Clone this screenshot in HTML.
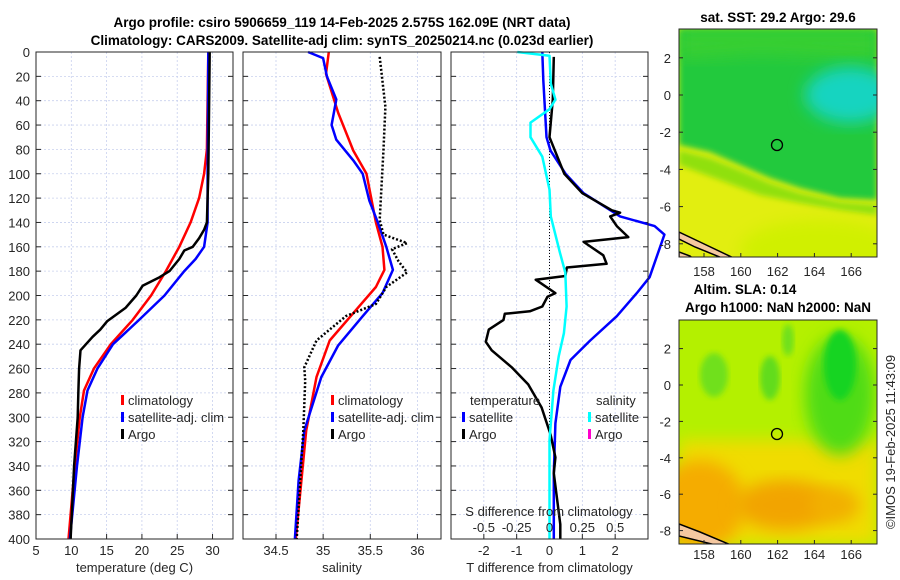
<!DOCTYPE html>
<html><head><meta charset="utf-8"><style>
body{margin:0;background:#fff;}
svg{display:block;font-family:"Liberation Sans",sans-serif;}
.t{font-size:13px;fill:#262626;}
.b{font-weight:bold;font-size:13.5px;fill:#000;}
</style></head><body>
<svg id="c" width="900" height="580" viewBox="0 0 900 580">
<defs>
<filter id="bl" x="-20%" y="-20%" width="140%" height="140%"><feGaussianBlur stdDeviation="8"/></filter>
<filter id="bl2"><feGaussianBlur stdDeviation="3"/></filter>
<clipPath id="m1"><rect x="679" y="29" width="198" height="228"/></clipPath>
<clipPath id="m2"><rect x="679" y="320" width="198" height="224"/></clipPath>
</defs>
<text class="b" x="342" y="27" text-anchor="middle">Argo profile: csiro 5906659_119 14-Feb-2025 2.575S 162.09E (NRT data)</text>
<text class="b" x="342" y="45" text-anchor="middle">Climatology: CARS2009. Satellite-adj clim: synTS_20250214.nc (0.023d earlier)</text>

<g>
<text class="b" x="778" y="22" text-anchor="middle">sat. SST: 29.2 Argo: 29.6</text>
<g clip-path="url(#m1)">
<rect x="679" y="29" width="198" height="228" fill="#e2ee10"/>
<ellipse cx="820" cy="250" rx="80" ry="30" fill="#d0f000" filter="url(#bl)"/>
<polygon points="679,29 877,29 877,200 840,198 800,188 770,178 740,165 710,152 679,145" fill="#22c93c" filter="url(#bl2)"/>
<polygon points="679,29 877,29 877,60 760,55 679,60" fill="#38cf30" filter="url(#bl)"/>
<ellipse cx="850" cy="95" rx="45" ry="28" fill="#12d4c0" filter="url(#bl)"/>
<polygon points="679,150 710,158 740,170 770,183 800,193 840,202 877,205 877,215 840,210 800,203 760,195 720,180 679,165" fill="#90e010" filter="url(#bl2)"/>
<path d="M679,232 L700,242 L742,262 L732,262 L695,247 L679,239Z" fill="#f5c8a0" stroke="#000" stroke-width="1.5"/>
<path d="M679,252 L690,256 L697,262 L679,262Z" fill="#f5c8a0" stroke="#000" stroke-width="1.5"/>
</g>
<rect x="679" y="29" width="198" height="228" fill="none" stroke="#262626"/>
<circle cx="777" cy="145" r="5.5" fill="none" stroke="#000" stroke-width="1.3"/>
</g>

<g>
<text class="b" x="745" y="294" text-anchor="middle">Altim. SLA: 0.14</text>
<text class="b" x="778" y="312" text-anchor="middle">Argo h1000: NaN h2000: NaN</text>
<g clip-path="url(#m2)">
<rect x="679" y="320" width="198" height="224" fill="#b4f000"/>
<rect x="679" y="440" width="198" height="104" fill="#f0dc00" filter="url(#bl)"/>
<ellipse cx="700" cy="505" rx="45" ry="45" fill="#f5ac00" filter="url(#bl)"/>
<ellipse cx="785" cy="505" rx="50" ry="25" fill="#f2a400" filter="url(#bl)"/>
<ellipse cx="835" cy="505" rx="25" ry="18" fill="#f2b000" filter="url(#bl)"/>
<ellipse cx="714" cy="375" rx="14" ry="22" fill="#70e01a" filter="url(#bl2)"/>
<ellipse cx="770" cy="378" rx="10" ry="22" fill="#62dc1c" filter="url(#bl2)"/>
<ellipse cx="788" cy="340" rx="6" ry="16" fill="#70e01a" filter="url(#bl2)"/>
<ellipse cx="840" cy="395" rx="35" ry="60" fill="#50dc18" filter="url(#bl)"/>
<ellipse cx="840" cy="365" rx="16" ry="35" fill="#18d424" filter="url(#bl2)"/>
<path d="M679,524 L700,532 L738,548 L728,548 L679,536Z" fill="#f5c8a0" stroke="#000" stroke-width="1.5"/>
</g>
<rect x="679" y="320" width="198" height="224" fill="none" stroke="#262626"/>
<circle cx="777" cy="434" r="5.5" fill="none" stroke="#000" stroke-width="1.3"/>
</g>
<text class="t" transform="translate(895,442) rotate(-90)" text-anchor="middle">©IMOS 19-Feb-2025 11:43:09</text>
</svg>
<script>
// ---- data (depth in m, values) ----
const tickDepths=[0,20,40,60,80,100,120,140,160,180,200,220,240,260,280,300,320,340,360,380,400];
const tempTicks=[5,10,15,20,25,30];
const salTicks=[34.5,35,35.5,36];
const tdiffTicks=[-2,-1,0,1,2];
const sdiffTicks=[-0.5,-0.25,0,0.25,0.5];
const sdiffTickLabels=["-0.5","-0.25","0","0.25","0.5"];
const latTicks=[2,0,-2,-4,-6,-8];
const lonTicks=[158,160,162,164,166];

const climTDepth=[0,80,100,120,140,160,180,200,220,240,260,278,300,340,400];
const climT=[29.4,29.2,28.8,28.1,26.9,25.3,23.4,21.3,18.7,15.6,13.2,11.8,11.2,10.5,9.6];
const satTDepth=[0,100,140,160,170,180,200,220,240,260,278,300,340,400];
const satT=[29.4,29.3,29.3,28.8,27.6,26.0,23.2,19.6,15.9,13.7,12.3,11.6,10.8,9.8];
const argoTDepth=[0,100,140,146,153,160,163,170,180,185,192,200,210,221,228,234,245,260,278,300,340,400];
const argoT=[29.6,29.4,29.2,28.8,28.1,27.2,26.0,25.3,23.9,22.5,20.1,19.2,17.7,15.1,14.1,13.0,11.3,11.1,11.0,10.9,10.4,9.9];

const climSDepth=[0,18,50,81,100,140,160,179,193,210,237,267,311,400];
const climS=[35.06,35.03,35.16,35.32,35.46,35.56,35.63,35.65,35.56,35.37,35.07,34.93,34.82,34.71];
const satSDepth=[0,5,20,39,60,72,89,100,122,140,160,179,198,217,241,267,311,352,400];
const satS=[34.84,35.0,35.04,35.14,35.09,35.14,35.32,35.42,35.49,35.58,35.67,35.74,35.63,35.42,35.16,34.98,34.80,34.74,34.70];
const argoSDepth=[4,45,80,138,150,157,162,172,181,193,207,217,237,259,270,311,400];
const argoS=[35.6,35.66,35.64,35.6,35.64,35.89,35.73,35.8,35.89,35.67,35.56,35.24,34.93,34.8,34.81,34.79,34.72];

const dTsatDepth=[0,23,70,81,100,116,135,143,150,185,198,217,237,253,275,305,346,400];
const dTsat=[-0.22,-0.19,-0.09,0.03,0.49,1.04,2.15,3.2,3.5,3.05,2.66,2.05,1.24,0.64,0.33,0.18,0.13,0.13];
const dTargoDepth=[4,39,70,100,116,130,132,135,143,152,156,167,174,177,184,187,198,201,209,213,215,220,228,238,245,259,273,292,314,333,346,388,400];
const dTargo=[0.13,0.1,0.0,0.45,1.0,1.9,2.15,1.85,2.05,2.4,1.04,1.64,1.74,0.53,0.48,-0.42,0.18,-0.06,-0.22,-0.6,-1.36,-1.4,-1.85,-1.94,-1.76,-1.15,-0.65,-0.24,0.03,0.18,0.13,0.33,0.33];
const dSsatDepth=[0,3,26,39,47,58,70,86,113,135,165,181,209,231,250,278,319,400];
const dSsat=[-0.245,0,0.01,0.045,0,-0.145,-0.145,-0.055,0,0.01,0.08,0.12,0.13,0.11,0.07,0.03,0,0];

// ---- drawing ----
const NS='http://www.w3.org/2000/svg';
const svg=document.getElementById('c');
const Y0=52,Y1=539;
function y(d){return Y0+(d/400)*(Y1-Y0);}
function mk(tag,attrs,parent){const e=document.createElementNS(NS,tag);for(const k in attrs)e.setAttribute(k,attrs[k]);(parent||svg).appendChild(e);return e;}

function panel(name,x0,x1,vmin,vmax,ticks,labels,xlabel){
  const g=mk('g',{});
  
  
  const sx=v=>x0+(v-vmin)/(vmax-vmin)*(x1-x0);
  ticks.forEach((t,i)=>{
    const gl=mk('line',{x1:sx(t),x2:sx(t),y1:Y0,y2:Y1,stroke:'#c8d0ee','stroke-width':0.8,'stroke-dasharray':'2,2'},g);
    
    
    const tl=mk('text',{x:sx(t),y:Y1+16,'text-anchor':'middle',class:'t'},g);
    tl.textContent=labels[i];
    
    
    mk('line',{x1:sx(t),x2:sx(t),y1:Y1,y2:Y1-5,stroke:'#262626'},g);
  });
  tickDepths.forEach(d=>{
    if(d>0&&d<400){const gl=mk('line',{x1:x0,x2:x1,y1:y(d),y2:y(d),stroke:'#c8d0ee','stroke-width':0.8,'stroke-dasharray':'2,2'},g);
    
    }
    mk('line',{x1:x0,x2:x0+5,y1:y(d),y2:y(d),stroke:'#262626'},g);
    mk('line',{x1:x1,x2:x1-5,y1:y(d),y2:y(d),stroke:'#262626'},g);
  });
  const xt=mk('text',{x:(x0+x1)/2,y:572,'text-anchor':'middle',class:'t'},g);
  xt.textContent=xlabel;
  
  
  return {g,sx};
}
function line(p,vals,deps,color,w,dash,nm){
  const pts=vals.map((v,i)=>p.sx(v).toFixed(1)+','+y(deps[i]).toFixed(1)).join(' ');
  const e=mk('polyline',{points:pts,fill:'none',stroke:color,'stroke-width':w,'stroke-linejoin':'round'},p.g);
  if(dash)e.setAttribute('stroke-dasharray',dash);
  
  
}
function frame(x0,x1,g){const r=mk('rect',{x:x0,y:Y0,width:x1-x0,height:Y1-Y0,fill:'none',stroke:'#262626'},g);
  }
function legend(g,x,yy,items){
  items.forEach((it,i)=>{
    const yy2=yy+i*17;
    mk('rect',{x:x,y:yy2-9,width:3,height:10,fill:it[1]},g);
    const t=mk('text',{x:x+7,y:yy2+1,class:'t'},g);
    t.textContent=it[0];
    
    
  });
}

// panel 1 temperature
const p1=panel('temperature-panel',36,233,5,32.9,tempTicks,tempTicks.map(String),'temperature (deg C)');
tickDepths.forEach(d=>{const t=mk('text',{x:30,y:y(d)+5,'text-anchor':'end',class:'t'},p1.g);t.textContent=d;
  });
line(p1,climT,climTDepth,'#ff0000',2.5,null,'climatology-temp-line');
line(p1,satT,satTDepth,'#0000ff',2.5,null,'satellite-temp-line');
line(p1,argoT,argoTDepth,'#000',2.5,null,'argo-temp-line');
frame(36,233,p1.g);
legend(p1.g,121,404,[['climatology','#ff0000'],['satellite-adj. clim','#0000ff'],['Argo','#000']]);

// panel 2 salinity
const p2=panel('salinity-panel',243,441,34.15,36.25,salTicks,salTicks.map(String),'salinity');
line(p2,climS,climSDepth,'#ff0000',2.5,null,'climatology-salinity-line');
line(p2,satS,satSDepth,'#0000ff',2.5,null,'satellite-salinity-line');
line(p2,argoS,argoSDepth,'#000',2.5,'2,2','argo-salinity-line');
frame(243,441,p2.g);
legend(p2.g,331,404,[['climatology','#ff0000'],['satellite-adj. clim','#0000ff'],['Argo','#000']]);

// panel 3 differences
const p3=panel('difference-panel',451,648,-3,3,tdiffTicks,tdiffTicks.map(String),'T difference from climatology');
mk('line',{x1:p3.sx(0),x2:p3.sx(0),y1:Y0,y2:Y1,stroke:'#000','stroke-width':1,'stroke-dasharray':'1,2'},p3.g);
line(p3,dTsat,dTsatDepth,'#0000ff',2.5,null,'satellite-temp-diff-line');
line(p3,dTargo,dTargoDepth,'#000',2.5,null,'argo-temp-diff-line');
line(p3,dSsat.map(v=>v*4),dSsatDepth,'#00ffff',2.5,null,'satellite-salinity-diff-line');
frame(451,648,p3.g);
const th=mk('text',{x:470,y:405,class:'t'},p3.g);th.textContent='temperature';

const sh=mk('text',{x:596,y:405,class:'t'},p3.g);sh.textContent='salinity';

legend(p3.g,462,421,[['satellite','#0000ff'],['Argo','#000']]);
legend(p3.g,588,421,[['satellite','#00ffff'],['Argo','#ff00cc']]);
const st=mk('text',{x:549,y:516,'text-anchor':'middle',class:'t'},p3.g);st.textContent='S difference from climatology';

sdiffTicks.forEach((t,i)=>{const e=mk('text',{x:p3.sx(t*4),y:532,'text-anchor':'middle',class:'t'},p3.g);e.textContent=sdiffTickLabels[i];
  });

// map ticks
function mapTicks(top,bot,lat0px,pxPerLat,lonLabelY){
  latTicks.forEach(l=>{const yy=lat0px-l*pxPerLat;
    const t=mk('text',{x:671,y:yy+5,'text-anchor':'end',class:'t'});t.textContent=l;
    
    mk('line',{x1:679,x2:683,y1:yy,y2:yy,stroke:'#262626'});mk('line',{x1:877,x2:873,y1:yy,y2:yy,stroke:'#262626'});});
  lonTicks.forEach(l=>{const xx=704+(l-158)*18.4;
    const t=mk('text',{x:xx,y:lonLabelY,'text-anchor':'middle',class:'t'});t.textContent=l;
    
    mk('line',{x1:xx,x2:xx,y1:bot,y2:bot-4,stroke:'#262626'});});
}
mapTicks(29,257,95,18.6,276);
mapTicks(320,544,385,18.2,559);
</script>
</body></html>
